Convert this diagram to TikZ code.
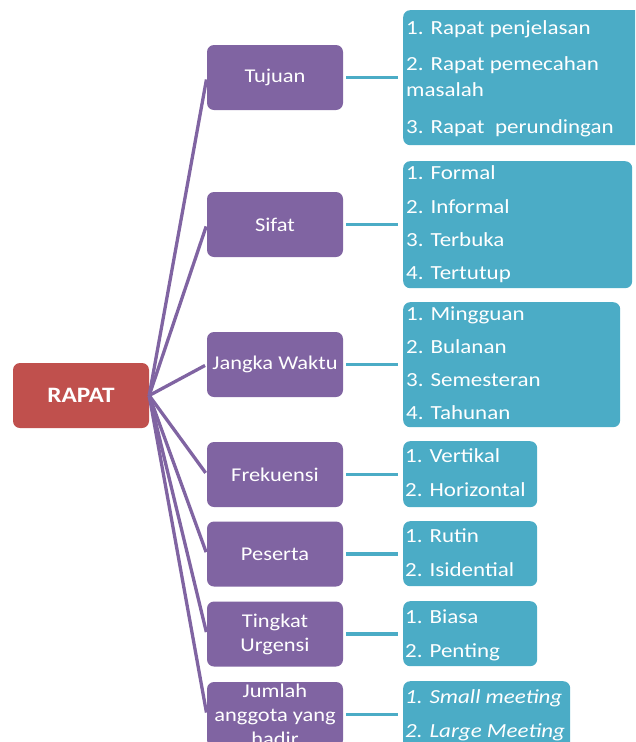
\documentclass[tikz,border=0pt]{standalone}
\usepackage{fontspec}
\setmainfont{Carlito}
\definecolor{rapred}{HTML}{C0504D}
\definecolor{purp}{HTML}{8064A2}
\definecolor{tealb}{HTML}{4BACC6}
\newcommand\widetxt[1]{\scalebox{1.15}[1]{#1}}
\begin{document}
\begin{tikzpicture}[x=1pt,y=-1pt,
 box/.style={rounded corners=7pt, inner sep=0pt, text=white},
 cat/.style={box, fill=purp, minimum width=136pt, minimum height=65pt, align=center, font=\fontsize{19.5}{24}\selectfont},
 lst/.style={box, fill=tealb, anchor=north west},
 item/.style={anchor=base west, text=white, inner sep=0pt, font=\fontsize{20}{24}\selectfont},
 tree/.style={draw=purp, line width=3.3pt},
 link/.style={draw=tealb, line width=3.3pt, shorten <=3pt, shorten >=5pt}]
\useasboundingbox (0,0) rectangle (635,742);
\clip (0,0) rectangle (635,742);

% root
\node[box, fill=rapred, minimum width=136pt, minimum height=65pt, font=\fontsize{22}{26}\selectfont\bfseries] (rapat) at (81,395.5) {\widetxt{RAPAT}};

% categories
\node[cat] (tuj) at (275,77.5) {\widetxt{Tujuan}};
\node[cat] (sif) at (275,224.5) {\widetxt{Sifat}};
\node[cat] (jan) at (275,364.5) {\widetxt{Jangka Waktu}};
\node[cat] (fre) at (275,474.5) {\widetxt{Frekuensi}};
\node[cat] (pes) at (275,554) {\widetxt{Peserta}};
\node[cat] (tin) at (275,634) {\widetxt{Tingkat}\\\widetxt{Urgensi}};
\node[cat] (jum) at (275,714.5) {\widetxt{Jumlah}\\\widetxt{anggota yang}\\\widetxt{hadir}};

% lists
\node[lst, minimum width=245pt, minimum height=135pt] (tl) at (403,10) {};
\node[lst, minimum width=229pt, minimum height=127pt] (sl) at (403,161) {};
\node[lst, minimum width=217pt, minimum height=125pt] (jl) at (403,302) {};
\node[lst, minimum width=134pt, minimum height=66pt] (fl) at (403,441) {};
\node[lst, minimum width=134pt, minimum height=65pt] (pl) at (403,521) {};
\node[lst, minimum width=134pt, minimum height=65pt] (ul) at (403,601) {};
\node[lst, minimum width=167pt, minimum height=75pt] (ml) at (403,681) {};

% items
\node[item] (t1) at (406,34) {\widetxt{1. Rapat penjelasan}};
\node[item] (t2) at (406,70) {\widetxt{2. Rapat pemecahan}};
\node[item] (t3) at (406,96) {\widetxt{masalah}};
\node[item] (t4) at (406,133) {\widetxt{3. Rapat\ \ perundingan}};
\node[item] (s1) at (406,179) {\widetxt{1. Formal}};
\node[item] (s2) at (406,213) {\widetxt{2. Informal}};
\node[item] (s3) at (406,246) {\widetxt{3. Terbuka}};
\node[item] (s4) at (406,279) {\widetxt{4. Tertutup}};
\node[item] (j1) at (406,320) {\widetxt{1. Mingguan}};
\node[item] (j2) at (406,353) {\widetxt{2. Bulanan}};
\node[item] (j3) at (406,386) {\widetxt{3. Semesteran}};
\node[item] (j4) at (406,419) {\widetxt{4. Tahunan}};
\node[item] (f1) at (405,462) {\widetxt{1. Vertikal}};
\node[item] (f2) at (405,496) {\widetxt{2. Horizontal}};
\node[item] (p1) at (405,542) {\widetxt{1. Rutin}};
\node[item] (p2) at (405,576) {\widetxt{2. Isidential}};
\node[item] (u1) at (405,623) {\widetxt{1. Biasa}};
\node[item] (u2) at (405,657) {\widetxt{2. Penting}};
\node[item, font=\fontsize{20}{24}\selectfont\itshape] (m1) at (405,703) {\widetxt{1. Small meeting}};
\node[item, font=\fontsize{20}{24}\selectfont\itshape] (m2) at (405,737) {\widetxt{2. Large Meeting}};

% tree connectors
\foreach \c in {tuj,sif,jan,fre,pes,tin,jum}
  \draw[tree, shorten >=2pt] (rapat.east) -- (\c.west);

% links
\draw[link] (tuj.east) -- (tuj.east -| tl.west);
\draw[link] (sif.east) -- (sif.east -| sl.west);
\draw[link] (jan.east) -- (jan.east -| jl.west);
\draw[link] (fre.east) -- (fre.east -| fl.west);
\draw[link] (pes.east) -- (pes.east -| pl.west);
\draw[link] (tin.east) -- (tin.east -| ul.west);
\draw[link] (jum.east) -- (jum.east -| ml.west);
\end{tikzpicture}
\end{document}
